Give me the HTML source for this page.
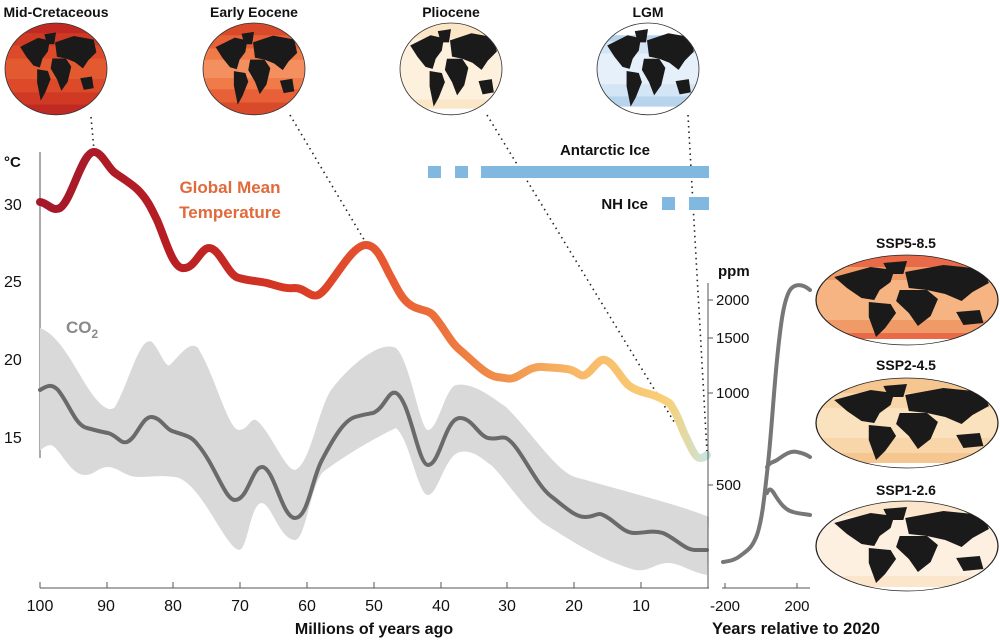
<!DOCTYPE html>
<html><head><meta charset="utf-8"><style>
body{margin:0;background:#fff}
svg{display:block;font-family:"Liberation Sans",sans-serif}
</style></head><body>
<svg width="1000" height="643" viewBox="0 0 1000 643" xmlns="http://www.w3.org/2000/svg">
<defs>
<clipPath id="ec"><ellipse cx="50" cy="45" rx="50" ry="45"/></clipPath>
<g id="land" fill="#1a1a1a">
<path d="M10,22 L30,12 L43,15 L41,27 L35,35 L32,45 L25,43 L17,33 Z"/>
<path d="M37,8 L50,6 L48,19 L40,19 Z"/>
<path d="M29,47 L41,49 L44,58 L38,73 L33,82 L29,62 Z"/>
<path d="M49,17 L70,10 L92,14 L95,28 L86,37 L80,46 L71,39 L61,35 L51,33 Z"/>
<path d="M46,35 L61,35 L67,44 L63,61 L56,71 L51,58 L44,46 Z"/>
<path d="M77,57 L90,55 L92,68 L81,70 Z"/>
</g>
<linearGradient id="tg" gradientUnits="userSpaceOnUse" x1="40" y1="0" x2="708" y2="0">
<stop offset="0" stop-color="#a3182a"/><stop offset="0.2" stop-color="#b81e24"/>
<stop offset="0.38" stop-color="#d93a24"/><stop offset="0.52" stop-color="#e85a32"/>
<stop offset="0.68" stop-color="#f08c48"/><stop offset="0.8" stop-color="#f8b868"/>
<stop offset="0.94" stop-color="#f8d078"/><stop offset="1" stop-color="#c6e6e2"/>
</linearGradient>
</defs>

<g font-weight="bold" font-size="14" text-anchor="middle" fill="#111">
<text x="56" y="17">Mid-Cretaceous</text>
<text x="254" y="17">Early Eocene</text>
<text x="451" y="17">Pliocene</text>
<text x="648" y="17">LGM</text>
<text x="906" y="248">SSP5-8.5</text>
<text x="906" y="370">SSP2-4.5</text>
<text x="906" y="495">SSP1-2.6</text>
</g>

<g transform="translate(5,23) scale(1.02,1.02)">
<g clip-path="url(#ec)"><rect width="100" height="90" fill="#c02a22"/><rect y="10" width="100" height="70" fill="#d03a24"/><rect y="22" width="100" height="46" fill="#dc4a2a"/><rect y="35" width="100" height="20" fill="#e45a30"/>
<g transform="translate(6,4) scale(0.88)"><use href="#land"/></g></g>
<ellipse cx="50" cy="45" rx="50" ry="45" fill="none" stroke="#333" stroke-width="0.8"/></g>

<g transform="translate(203,23) scale(1.02,1.02)">
<g clip-path="url(#ec)"><rect width="100" height="90" fill="#d84a2a"/><rect y="12" width="100" height="66" fill="#e86038"/><rect y="25" width="100" height="40" fill="#f07a48"/><rect y="36" width="100" height="18" fill="#f49060"/>
<g transform="translate(3,3) scale(0.94)"><use href="#land"/></g></g>
<ellipse cx="50" cy="45" rx="50" ry="45" fill="none" stroke="#333" stroke-width="0.8"/></g>

<g transform="translate(400,23) scale(1.02,1.02)">
<g clip-path="url(#ec)"><rect width="100" height="90" fill="#fbe6c8"/><rect y="15" width="100" height="60" fill="#fdf0dc"/><rect y="84" width="100" height="6" fill="#fff"/>
<use href="#land"/></g>
<ellipse cx="50" cy="45" rx="50" ry="45" fill="none" stroke="#333" stroke-width="0.8"/></g>

<g transform="translate(597,23) scale(1.02,1.02)">
<g clip-path="url(#ec)"><rect width="100" height="90" fill="#b8d4ec"/><rect y="18" width="100" height="54" fill="#d4e6f5"/><rect y="30" width="100" height="30" fill="#e6f0fa"/><rect y="0" width="100" height="12" fill="#fff"/><rect y="82" width="100" height="8" fill="#fff"/>
<use href="#land"/></g>
<ellipse cx="50" cy="45" rx="50" ry="45" fill="none" stroke="#333" stroke-width="0.8"/></g>

<g transform="translate(816,255) scale(1.82,1.0)">
<g clip-path="url(#ec)"><rect width="100" height="90" fill="#e86a48"/><rect y="12" width="100" height="66" fill="#f09a68"/><rect y="25" width="100" height="40" fill="#f5b482"/><rect y="84" width="100" height="6" fill="#fff"/>
<use href="#land"/></g>
<ellipse cx="50" cy="45" rx="50" ry="45" fill="none" stroke="#222" stroke-width="0.7"/></g>

<g transform="translate(816,378) scale(1.82,1.0)">
<g clip-path="url(#ec)"><rect width="100" height="90" fill="#f6c690"/><rect y="15" width="100" height="60" fill="#f9d6aa"/><rect y="30" width="100" height="30" fill="#fbe2be"/><rect y="85" width="100" height="5" fill="#fff"/>
<use href="#land"/></g>
<ellipse cx="50" cy="45" rx="50" ry="45" fill="none" stroke="#222" stroke-width="0.7"/></g>

<g transform="translate(816,501) scale(1.82,1.0)">
<g clip-path="url(#ec)"><rect width="100" height="90" fill="#fbe6cc"/><rect y="15" width="100" height="60" fill="#fdf0e0"/><rect y="86" width="100" height="4" fill="#fff"/>
<use href="#land"/></g>
<ellipse cx="50" cy="45" rx="50" ry="45" fill="none" stroke="#222" stroke-width="0.7"/></g>

<g stroke="#222" stroke-width="1.6" stroke-dasharray="1.5,4" fill="none">
<line x1="91" y1="117" x2="94" y2="150"/>
<line x1="290" y1="115" x2="366" y2="243"/>
<line x1="487" y1="115" x2="676" y2="425"/>
<line x1="688" y1="115" x2="707" y2="452"/>
</g>

<line x1="40" y1="152" x2="40" y2="458" stroke="#555" stroke-width="1"/>
<g font-size="16" fill="#111">
<text x="4" y="167" font-weight="bold" font-size="15">°C</text>
<text x="4" y="210">30</text><text x="4" y="287">25</text>
<text x="4" y="365">20</text><text x="4" y="443">15</text>
</g>

<path d="M40,328 C50,332 60,340 80,375 C100,410 110,412 115,407 C130,380 140,335 152,342 C160,350 165,368 170,365 C180,355 190,340 198,348 C215,375 228,430 239,430 C248,430 250,418 256,420 C270,430 285,470 295,470 C310,465 318,410 331,390 C350,365 380,340 396,348 C410,360 420,430 428,430 C438,430 445,388 456,385 C475,382 495,400 506,407 C530,430 555,470 575,477 C620,490 680,505 709,517
L707,575 C690,572 680,563 668,563 C655,563 650,572 635,570 C600,560 570,540 543,523 C520,505 500,470 488,463 C478,455 470,450 460,452 C445,455 438,495 428,495 C418,495 410,440 396,428 C370,440 335,462 322,473 C310,490 305,540 295,540 C280,540 272,505 262,503 C250,503 248,550 239,550 C225,548 200,480 175,477 C160,475 150,477 138,477 C125,477 118,467 108,467 C98,467 95,475 85,475 C70,475 60,448 51,445 C45,445 42,450 40,450 Z" fill="#d9d9d9"/>
<path d="M40,390 C48,385 52,384 58,390 C70,405 75,425 87,428 C98,431 102,432 108,433 C118,436 120,444 127,442 C137,438 142,416 152,417 C162,418 165,430 175,432 C188,436 192,437 198,445 C215,465 225,500 235,500 C248,500 252,467 262,467 C274,467 282,518 295,518 C308,518 312,478 322,460 C335,435 345,420 355,417 C365,414 368,414 373,413 C385,408 388,390 396,393 C410,400 418,465 428,465 C440,465 445,418 460,418 C472,418 478,435 488,438 C498,440 500,436 506,438 C520,445 535,485 552,497 C565,507 575,517 585,517 C595,517 597,512 603,515 C615,520 622,533 635,533 C645,533 652,530 663,533 C675,538 685,550 695,550 L707,550" fill="none" stroke="#6a6a6a" stroke-width="4" stroke-linecap="round"/>
<text x="66" y="333" font-size="17" font-weight="bold" fill="#8a8a8a">CO<tspan font-size="12" dy="5">2</tspan></text>

<path d="M40,202 C48,203 52,212 60,208 C72,200 82,152 94,152 C102,152 108,168 115,173 C125,180 132,184 138,190 C148,200 152,210 157,220 C165,238 172,266 182,268 C195,270 200,248 209,248 C220,248 228,276 239,278 C250,281 258,281 267,283 C278,286 285,289 295,288 C305,288 310,298 318,295 C330,290 350,245 366,245 C378,245 384,265 391,277 C398,290 403,302 414,307 C423,311 428,310 433,315 C443,326 450,342 460,350 C472,360 485,375 497,377 C507,378 510,380 516,377 C526,372 532,366 543,367 C555,368 565,368 571,370 C578,372 580,377 585,375 C592,372 598,358 605,360 C615,363 622,382 631,387 C640,393 650,393 658,397 C666,401 670,402 672,407 C678,415 682,430 686,437 C692,450 696,458 700,458 C704,458 706,456 707,455" fill="none" stroke="url(#tg)" stroke-width="8" stroke-linecap="round" stroke-linejoin="round"/>
<text x="230" y="193" font-size="17" font-weight="bold" fill="#e06a3c" text-anchor="middle">Global Mean</text>
<text x="230" y="218" font-size="17" font-weight="bold" fill="#e06a3c" text-anchor="middle">Temperature</text>

<g fill="#80b8e0">
<rect x="428" y="166" width="13" height="12"/><rect x="455" y="166" width="13" height="12"/><rect x="481" y="166" width="228" height="12"/>
<rect x="662" y="197" width="13" height="13"/><rect x="689" y="197" width="20" height="13"/>
</g>
<text x="605" y="155" font-size="15" font-weight="bold" fill="#111" text-anchor="middle">Antarctic Ice</text>
<text x="648" y="209" font-size="15" font-weight="bold" fill="#111" text-anchor="end">NH Ice</text>

<g stroke="#555" stroke-width="1">
<line x1="40" y1="588" x2="709" y2="588"/>
<line x1="40" y1="582" x2="40" y2="588"/><line x1="107" y1="582" x2="107" y2="588"/><line x1="173" y1="582" x2="173" y2="588"/><line x1="240" y1="582" x2="240" y2="588"/><line x1="307" y1="582" x2="307" y2="588"/><line x1="374" y1="582" x2="374" y2="588"/><line x1="441" y1="582" x2="441" y2="588"/><line x1="507" y1="582" x2="507" y2="588"/><line x1="574" y1="582" x2="574" y2="588"/><line x1="641" y1="582" x2="641" y2="588"/>
</g>
<g font-size="16" fill="#111" text-anchor="middle">
<text x="40" y="611">100</text><text x="106" y="611">90</text><text x="173" y="611">80</text><text x="240" y="611">70</text><text x="307" y="611">60</text><text x="374" y="611">50</text><text x="441" y="611">40</text><text x="507" y="611">30</text><text x="574" y="611">20</text><text x="641" y="611">10</text>
</g>
<text x="374" y="634" font-size="16" font-weight="bold" fill="#111" text-anchor="middle">Millions of years ago</text>

<g stroke="#555" stroke-width="1">
<line x1="708" y1="283" x2="708" y2="588"/>
<line x1="708" y1="300" x2="713" y2="300"/><line x1="708" y1="338" x2="713" y2="338"/><line x1="708" y1="393" x2="713" y2="393"/><line x1="708" y1="485" x2="713" y2="485"/>
<line x1="722" y1="588" x2="810" y2="588"/><line x1="725" y1="583" x2="725" y2="588"/><line x1="797" y1="583" x2="797" y2="588"/>
</g>
<g font-size="15" fill="#111">
<text x="718" y="276" font-weight="bold">ppm</text>
<text x="716" y="305">2000</text><text x="716" y="343">1500</text><text x="716" y="398">1000</text><text x="716" y="490">500</text>
<text x="725" y="611" text-anchor="middle">-200</text><text x="797" y="611" text-anchor="middle">200</text>
<text x="712" y="634" font-weight="bold" font-size="16.5">Years relative to 2020</text>
</g>
<g fill="none" stroke="#777" stroke-width="4" stroke-linecap="round" stroke-linejoin="round">
<path d="M723,562 C730,561 735,560 740,556 C748,550 752,548 757,535 C762,520 764,500 767,473 C771,440 773,400 777,360 C781,320 784,300 790,290 C795,283 803,284 810,290"/>
<path d="M767,467 C770,462 772,463 777,460 C783,456 790,450 797,452 C803,453 807,455 810,457"/>
<path d="M767,493 C769,488 771,488 775,495 C780,503 785,510 793,512 C800,514 805,514 810,515"/>
</g>
</svg>
</body></html>
